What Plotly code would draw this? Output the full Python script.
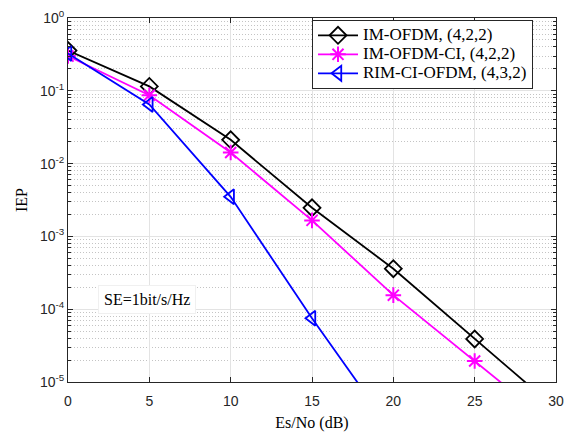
import numpy as np
import plotly.graph_objects as go

# ---- data ----
esno = [0, 5, 10, 15, 20, 25, 30]
im_ofdm = [0.357, 0.115, 0.0212, 0.00247, 3.6e-4, 3.9e-5, 4.3e-6]
im_ofdm_ci = [0.30, 0.087, 0.0142, 0.00166, 1.56e-4, 1.94e-5, 2.4e-6]
esno_rim = [0, 5, 10, 15, 20]
rim_ci_ofdm = [0.326, 0.065, 0.0035, 7.5e-5, 2.0e-6]

names = ["IM-OFDM, (4,2,2)", "IM-OFDM-CI, (4,2,2)", "RIM-CI-OFDM, (4,3,2)"]
x_ticks = [0, 5, 10, 15, 20, 25, 30]
y_exps = [0, -1, -2, -3, -4, -5]
annotation_text = "SE=1bit/s/Hz"

serif = "Liberation Serif, Times New Roman, serif"
sans = "Liberation Sans, Arial, Helvetica, sans-serif"
axc = "#262626"


def big(t):
    return '<span style="font-size:17px">%s</span>' % t


fig = go.Figure()
fig.add_trace(go.Scatter(x=esno, y=im_ofdm, name=big(names[0]), mode="lines+markers",
                         line=dict(color="black", width=1.8),
                         marker=dict(symbol="diamond-open", size=13, color="black",
                                     line=dict(width=1.8))))
fig.add_trace(go.Scatter(x=esno, y=im_ofdm_ci, name=big(names[1]), mode="lines+markers",
                         line=dict(color="#ff00ff", width=1.8),
                         marker=dict(symbol="asterisk-open", size=13, color="#ff00ff",
                                     line=dict(width=2, color="#ff00ff"))))
fig.add_trace(go.Scatter(x=esno_rim, y=rim_ci_ofdm, name=big(names[2]), mode="lines+markers",
                         line=dict(color="#0000ff", width=1.8),
                         marker=dict(symbol="triangle-left-open", size=13, color="#0000ff",
                                     line=dict(width=1.8))))

minor_y = [m * 10.0 ** e for e in range(-5, 0) for m in range(2, 10)]

fig.update_layout(
    width=584, height=437,
    margin=dict(l=68, r=28, t=8, b=53),
    paper_bgcolor="white", plot_bgcolor="white",
    showlegend=True,
    legend=dict(x=0.5, y=0.995, xanchor="left", yanchor="top",
                bgcolor="white", bordercolor=axc, borderwidth=1,
                font=dict(family=serif, size=12, color="black"),
                tracegroupgap=0, itemwidth=40),
    font=dict(family=sans, size=14, color=axc),
)
fig.update_xaxes(
    range=[0, 30], tickvals=x_ticks, ticktext=[str(v) for v in x_ticks],
    showgrid=True, gridcolor="#e3e3e3", gridwidth=1,
    showline=True, linecolor=axc, linewidth=1, mirror="ticks",
    ticks="inside", ticklen=5, tickcolor=axc, zeroline=False,
    tickfont=dict(family=sans, size=14, color=axc), ticklabelstandoff=6,
    title=dict(text="Es/No (dB)", font=dict(family=serif, size=16, color="black"), standoff=9),
)
fig.update_yaxes(
    type="log", range=[-5, 0],
    tickvals=[10.0 ** e for e in y_exps],
    ticktext=["10<sup>%d</sup>" % e for e in y_exps],
    showgrid=True, gridcolor="#e3e3e3", gridwidth=1,
    showline=True, linecolor=axc, linewidth=1, mirror="ticks",
    ticks="inside", ticklen=5, tickcolor=axc, zeroline=False,
    tickfont=dict(family=sans, size=14, color=axc), ticklabeloverflow="allow",
    minor=dict(tickvals=minor_y, ticks="inside", ticklen=3, tickcolor=axc,
               showgrid=True, gridcolor="#c4c4c4", griddash="1px,2px", gridwidth=1),
    title=dict(text="IEP", font=dict(family=serif, size=16, color="black"), standoff=8),
)
fig.add_annotation(x=4.87, y=-3.87, xref="x", yref="y", text=annotation_text,
                   showarrow=False, font=dict(family=serif, size=16, color="black"),
                   bgcolor="white", bordercolor="#f0f0f0", borderwidth=1, borderpad=5)

fig.write_html("out.html", config={"displayModeBar": False},
               post_script="document.body.style.margin='0';")
